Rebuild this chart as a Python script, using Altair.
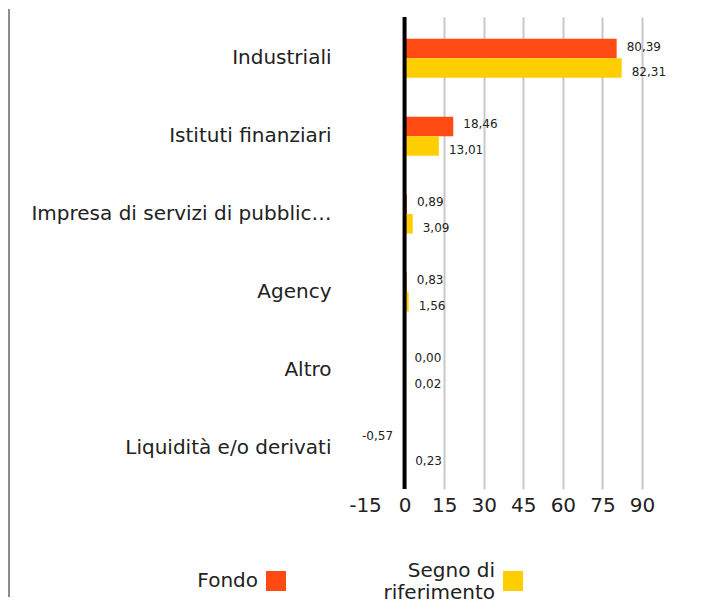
import altair as alt
import pandas as pd

categories = [
    "Industriali",
    "Istituti finanziari",
    "Impresa di servizi di pubblic…",
    "Agency",
    "Altro",
    "Liquidità e/o derivati",
]
fondo = [80.39, 18.46, 0.89, 0.83, 0.00, -0.57]
riferimento = [82.31, 13.01, 3.09, 1.56, 0.02, 0.23]
series = ["Fondo", "Segno di riferimento"]
legend_labels = ["Fondo", "Segno di\nriferimento"]
colors = ["#FF4A14", "#FFCE00"]
x_ticks = [-15, 0, 15, 30, 45, 60, 75, 90]

rows = []
for c, f, r in zip(categories, fondo, riferimento):
    for s, v in zip(series, [f, r]):
        rows.append({"categoria": c, "serie": s, "valore": v,
                     "etichetta": f"{v:.2f}".replace(".", ",")})
df = pd.DataFrame(rows)
legend_df = pd.DataFrame({"serie": series, "testo": legend_labels})

FONT = "DejaVu Sans"
TXT = "#222222"

x_scale = alt.Scale(domain=[-15, 90], nice=False, zero=False)
y_enc = alt.Y(
    "categoria:N", sort=categories,
    scale=alt.Scale(paddingInner=0.5, paddingOuter=0.28),
    axis=alt.Axis(title=None, labelFontSize=20, labelFont=FONT, labelColor=TXT,
                  labelPadding=34, labelLimit=400, ticks=False, domain=False,
                  minExtent=357, maxExtent=357),
)
yoff = alt.YOffset("serie:N", sort=series,
                   scale=alt.Scale(domain=series, paddingInner=0, paddingOuter=0))
color_enc = alt.Color("serie:N", sort=series,
                      scale=alt.Scale(domain=series, range=colors), legend=None)

bars = alt.Chart(df).mark_bar().encode(
    x=alt.X("valore:Q", scale=x_scale,
            axis=alt.Axis(values=x_ticks, title=None, labelFontSize=20, labelFont=FONT,
                          labelColor=TXT, labelPadding=6, ticks=False, domain=False,
                          labelFlush=False, labelOverlap=False,
                          grid=True, gridColor="#c8c8c8", gridWidth=2,
                          gridOpacity={"condition": {"test": "datum.value <= 0", "value": 0}, "value": 1},
                          labelExpr="datum.value + ''", minExtent=40, maxExtent=40)),
    y=y_enc,
    yOffset=yoff,
    color=color_enc,
)

layers = [bars]
for s, dy in zip(series, [-2, 4]):
    for sign in ["pos", "neg"]:
        test = "datum.valore >= 0" if sign == "pos" else "datum.valore < 0"
        t = alt.Chart(df).transform_filter(alt.datum.serie == s).transform_filter(test).mark_text(
            align="left" if sign == "pos" else "right",
            dx=10 if sign == "pos" else -10, dy=dy,
            fontSize=12, font=FONT, color=TXT, baseline="middle",
        ).encode(
            x=alt.X("valore:Q", scale=x_scale, axis=None),
            y=alt.Y("categoria:N", sort=categories),
            yOffset=yoff,
            text="etichetta:N",
        )
        layers.append(t)

zero = alt.Chart(pd.DataFrame({"zero": [0]})).mark_rule(color="black", strokeWidth=4).encode(
    x=alt.X("zero:Q", scale=x_scale, axis=None)
)
border = alt.Chart(pd.DataFrame({"b": [0]})).mark_rule(color="#8c8c8c", strokeWidth=2).encode(
    x=alt.value(-356), y=alt.value(-8), y2=alt.value(580)
)
layers += [zero, border]

# legend (squares to the right of the labels)
leg_x = alt.Scale(type="point", domain=series, range=[-89, 148], padding=0)
leg_squares = alt.Chart(legend_df).mark_square(size=400, opacity=1).encode(
    x=alt.X("serie:N", scale=leg_x, axis=None),
    y=alt.value(564),
    color=color_enc,
)
layers.append(leg_squares)
for s, dy in zip(series, [0, -10]):
    lt = alt.Chart(legend_df).transform_filter(alt.datum.serie == s).mark_text(
        align="right", baseline="middle", dx=-18, dy=dy, fontSize=20, font=FONT,
        color=TXT, lineBreak="\n", lineHeight=22,
    ).encode(
        x=alt.X("serie:N", scale=leg_x, axis=None),
        y=alt.value(564),
        text="testo:N",
    )
    layers.append(lt)

chart = alt.layer(*layers).resolve_scale(x="independent").properties(
    width=277, height=472, padding=0
).configure_view(stroke=None)

chart.save("out.html", embed_options={"renderer": "svg", "actions": False})
